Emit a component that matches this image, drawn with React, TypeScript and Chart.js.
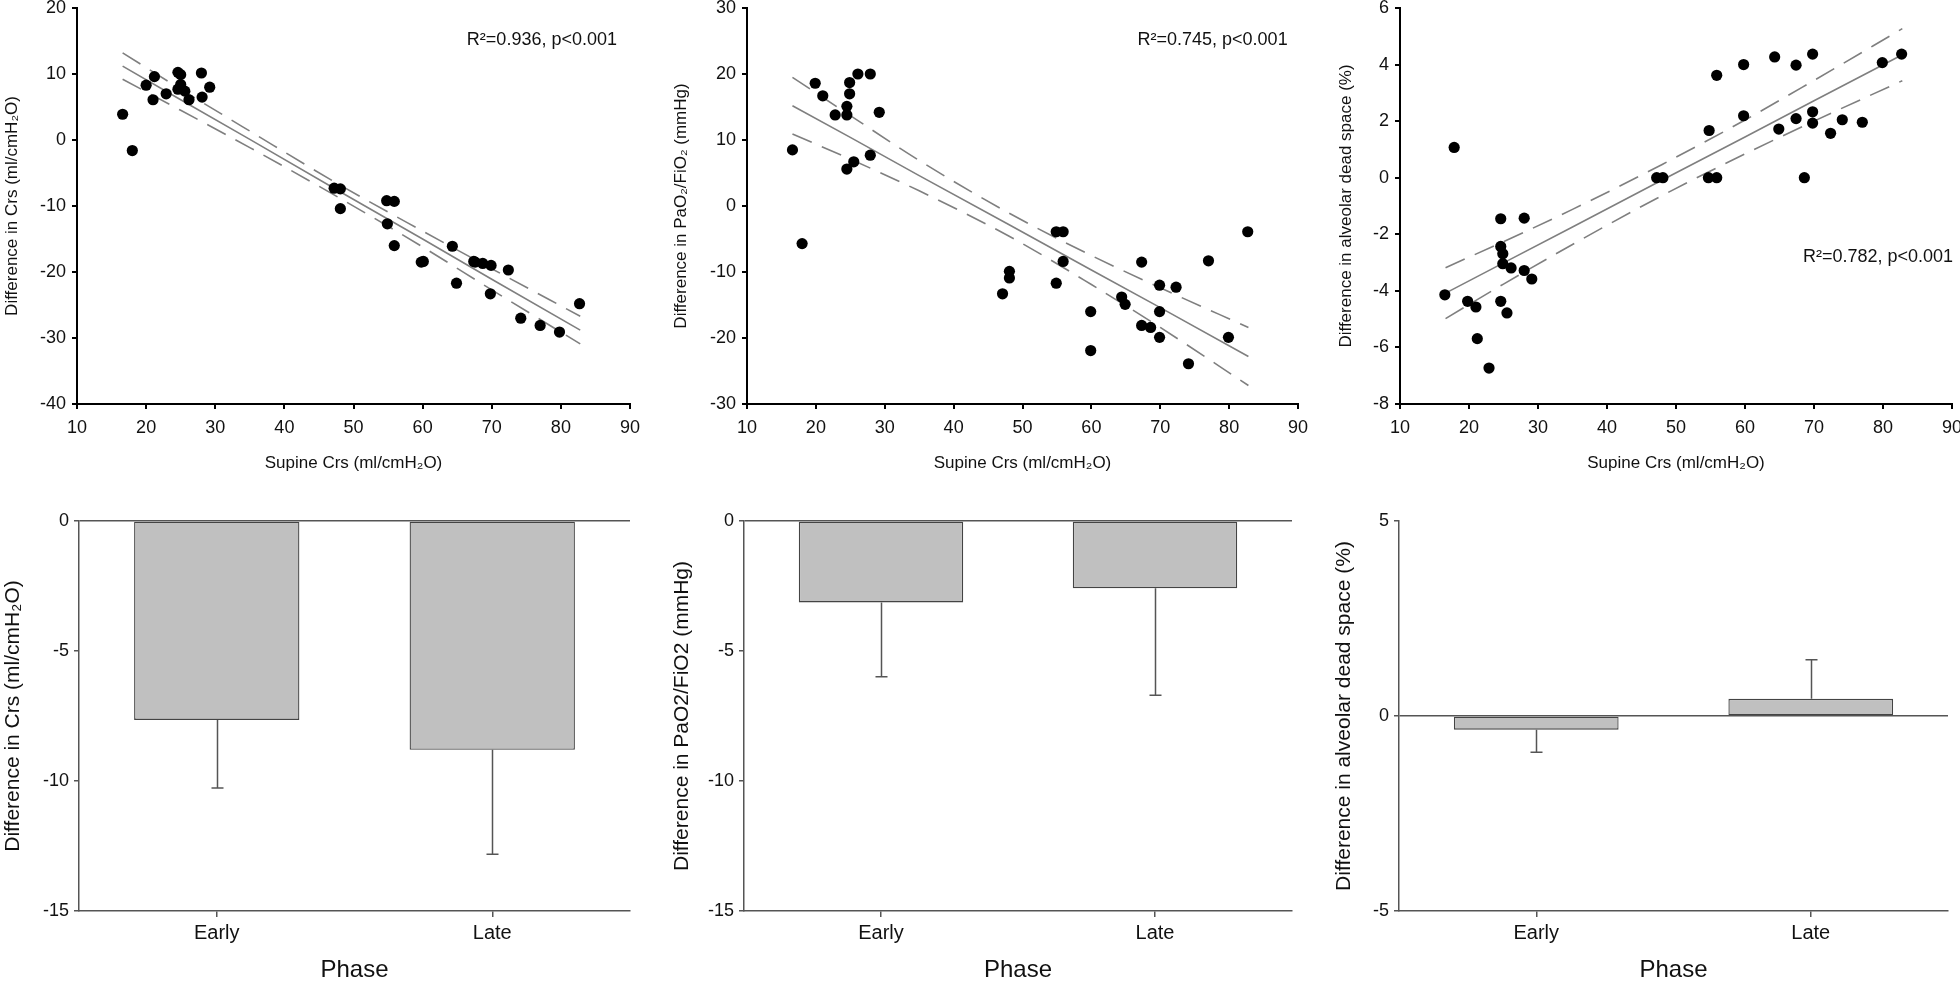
import React, { useEffect, useRef } from 'react';
import { Chart, registerables } from 'chart.js';

Chart.register(...registerables);

const FONT = "'Liberation Sans', Arial, Helvetica, sans-serif";

// ---------- Scatter data ----------
const crsX = [16.6, 18.0, 20.0, 21.2, 21.0, 22.9, 24.6, 25.0, 24.6, 25.0, 25.6, 26.2, 28.0, 28.1, 29.2, 24.9, 47.2, 48.1, 48.1, 54.8, 55.9, 54.9, 55.9, 59.8, 60.1, 64.3, 64.9, 67.4, 67.6, 68.7, 69.9, 69.8, 72.4, 74.2, 77.0, 79.8, 82.7];
const crsDiff = [3.9, -1.6, 8.3, 9.6, 6.1, 7.0, 10.25, 9.9, 7.7, 8.4, 7.4, 6.1, 10.15, 6.5, 8.0, 7.8, -7.3, -7.4, -10.4, -9.2, -9.3, -12.7, -16.0, -18.5, -18.4, -16.1, -21.7, -18.4, -18.5, -18.7, -19.0, -23.3, -19.7, -27.0, -28.1, -29.1, -24.8];

const pfX = [16.6, 18.0, 19.9, 21.0, 22.8, 24.5, 24.5, 24.9, 24.9, 24.5, 25.5, 26.1, 27.9, 29.2, 27.9, 47.1, 48.1, 48.1, 54.9, 55.9, 55.9, 54.9, 59.9, 59.9, 64.4, 64.9, 67.3, 67.3, 68.6, 69.9, 69.9, 69.9, 72.3, 74.1, 77.0, 79.9, 82.7];
const pfDiff = [8.5, -5.7, 18.6, 16.7, 13.8, 15.1, 13.8, 18.7, 17.0, 5.6, 6.7, 20.0, 20.0, 14.2, 7.7, -13.3, -9.9, -10.9, -3.9, -3.9, -8.4, -11.7, -16.0, -21.9, -13.8, -14.9, -8.5, -18.1, -18.4, -12.0, -16.0, -19.9, -12.3, -23.9, -8.3, -19.9, -3.9];

const dsX = [16.5, 17.85, 19.8, 21.0, 21.2, 22.9, 24.6, 24.6, 24.9, 24.9, 24.6, 25.5, 26.1, 28.0, 28.0, 29.1, 47.2, 48.1, 54.8, 54.7, 55.9, 55.9, 59.8, 59.8, 64.3, 64.9, 67.4, 67.4, 68.6, 69.8, 69.8, 69.8, 72.4, 74.1, 77.0, 79.9, 82.7];
const dsDiff = [-4.14, 1.07, -4.37, -4.57, -5.69, -6.73, -1.45, -2.43, -2.69, -3.04, -4.37, -4.78, -3.19, -1.43, -3.28, -3.58, 0, 0, 1.67, 0, 3.62, 0, 4.0, 2.19, 4.27, 1.72, 3.98, 2.09, 0, 4.37, 2.33, 1.93, 1.57, 2.05, 1.96, 4.07, 4.37];

// ---------- Regression lines and 95% bands ----------
const bandX = [16.6, 25, 35, 48, 60, 70, 82.8];
const crsFit = [11.2, 6.1, 0.1, -7.8, -15.0, -21.1, -28.8];
const crsUpper = [13.2, 7.7, 1.35, -6.8, -13.8, -19.5, -26.7];
const crsLower = [9.2, 4.5, -1.15, -8.8, -16.2, -22.7, -30.9];

const pfFit = [15.2, 10.4, 4.6, -2.8, -9.7, -15.4, -22.8];
const pfUpper = [19.5, 13.7, 6.9, -1.05, -7.5, -12.4, -18.4];
const pfLower = [10.9, 7.1, 2.3, -4.55, -11.9, -18.4, -27.2];

const dsFit = [-4.08, -3.01, -1.74, -0.08, 1.44, 2.72, 4.35];
const dsUpper = [-3.18, -2.26, -1.12, 0.47, 2.04, 3.44, 5.27];
const dsLower = [-4.98, -3.76, -2.36, -0.63, 0.84, 2.0, 3.43];

// ---------- Bar data ----------
const phases = ['Early', 'Late'];
const crsMean = [-7.65, -8.8];
const crsSD = [2.62, 4.02];
const pfMean = [-3.13, -2.59];
const pfSD = [2.86, 4.11];
const dsMean = [-0.35, 0.44];
const dsSD = [0.58, 1.0];

const stats = ['R²=0.936, p<0.001', 'R²=0.745, p<0.001', 'R²=0.782, p<0.001'];

const toPts = (xs: number[], ys: number[]) => xs.map((x, i) => ({ x, y: ys[i] }));

type Box = { x: number; y: number; w: number; h: number; left: number; top: number; right: number; bottom: number };

function annotationPlugin(text: string, ax: number, ay: number) {
  return {
    id: 'statText',
    afterDatasetsDraw(chart: any) {
      const { ctx, scales } = chart;
      ctx.save();
      ctx.font = `18px ${FONT}`;
      ctx.fillStyle = '#111';
      ctx.textAlign = 'left';
      ctx.textBaseline = 'middle';
      ctx.fillText(text, scales.x.getPixelForValue(ax), scales.y.getPixelForValue(ay));
      ctx.restore();
    },
  };
}

function errorBarPlugin(sd: number[]) {
  return {
    id: 'errorBars',
    afterDatasetsDraw(chart: any) {
      const { ctx } = chart;
      const meta = chart.getDatasetMeta(0);
      const vals = chart.data.datasets[0].data as number[];
      const y = chart.scales.y;
      ctx.save();
      ctx.strokeStyle = '#555';
      ctx.lineWidth = 1.5;
      meta.data.forEach((bar: any, i: number) => {
        const v = vals[i];
        const end = v + (v >= 0 ? 1 : -1) * sd[i];
        const y0 = y.getPixelForValue(v);
        const y1 = y.getPixelForValue(end);
        const xx = Math.round(bar.x) + 0.5;
        ctx.beginPath();
        ctx.moveTo(xx, y0);
        ctx.lineTo(xx, y1);
        ctx.moveTo(xx - 6, y1);
        ctx.lineTo(xx + 6, y1);
        ctx.stroke();
      });
      ctx.restore();
    },
  };
}

function scatterConfig(b: Box, xs: number[], ys: number[], fit: number[], up: number[], lo: number[],
  yMin: number, yMax: number, yStep: number, yTitle: string, yTitlePad: number, stat: string, sx: number, sy: number) {
  const lineCommon = { borderColor: '#7f7f7f', borderWidth: 1.6, pointRadius: 0, fill: false };
  return {
    type: 'scatter',
    data: {
      datasets: [
        { type: 'scatter', data: toPts(xs, ys), backgroundColor: '#000', borderColor: '#000', borderWidth: 0, pointRadius: 5.6, pointHoverRadius: 5.6 },
        { type: 'line', data: toPts(bandX, fit), ...lineCommon, tension: 0 },
        { type: 'line', data: toPts(bandX, up), ...lineCommon, borderDash: [21, 11], cubicInterpolationMode: 'monotone' },
        { type: 'line', data: toPts(bandX, lo), ...lineCommon, borderDash: [21, 11], cubicInterpolationMode: 'monotone' },
      ],
    },
    options: {
      responsive: false,
      animation: false,
      events: [],
      layout: { padding: { top: b.top, right: b.w - b.right, left: 0, bottom: 0 } },
      plugins: { legend: { display: false }, tooltip: { enabled: false } },
      scales: {
        x: {
          type: 'linear', min: 10, max: 90,
          ticks: { stepSize: 10, font: { family: FONT, size: 18 }, color: '#111', padding: 8 },
          grid: { drawOnChartArea: false, tickLength: 5, color: '#000', lineWidth: 2 },
          border: { color: '#000', width: 2 },
          title: { display: true, text: 'Supine Crs (ml/cmH₂O)', font: { family: FONT, size: 17 }, color: '#111', padding: { top: 0, bottom: 16 } },
          afterFit: (s: any) => { s.height = b.h - b.bottom; },
        },
        y: {
          type: 'linear', min: yMin, max: yMax,
          ticks: { stepSize: yStep, font: { family: FONT, size: 18 }, color: '#111', padding: 6 },
          grid: { drawOnChartArea: false, tickLength: 5, color: '#000', lineWidth: 2 },
          border: { color: '#000', width: 2 },
          title: { display: true, text: yTitle, font: { family: FONT, size: 17 }, color: '#111', padding: { top: yTitlePad, bottom: 0 } },
          afterFit: (s: any) => { s.width = b.left; },
        },
      },
    },
    plugins: [annotationPlugin(stat, sx, sy)],
  };
}

function barConfig(b: Box, means: number[], sd: number[], yMin: number, yMax: number, yTitle: string, yTitlePad: number) {
  const axisColor = '#555';
  return {
    type: 'bar',
    data: {
      labels: phases,
      datasets: [{ data: means, backgroundColor: '#c0c0c0', borderColor: '#444', borderWidth: 1.3, borderSkipped: false, categoryPercentage: 1, barPercentage: 0.6 }],
    },
    options: {
      responsive: false,
      animation: false,
      events: [],
      layout: { padding: { top: b.top, right: b.w - b.right, left: 0, bottom: 0 } },
      plugins: { legend: { display: false }, tooltip: { enabled: false } },
      scales: {
        x: {
          type: 'category', offset: true,
          ticks: { font: { family: FONT, size: 20 }, color: '#111', padding: 4 },
          grid: { offset: false, drawOnChartArea: false, tickLength: 6, color: axisColor, lineWidth: 1.5 },
          border: { color: axisColor, width: 1.5 },
          title: { display: true, text: 'Phase', font: { family: FONT, size: 24 }, color: '#111', padding: { top: 0, bottom: 4.6 } },
          afterFit: (s: any) => { s.height = b.h - b.bottom; },
        },
        y: {
          type: 'linear', min: yMin, max: yMax,
          ticks: { stepSize: 5, font: { family: FONT, size: 18 }, color: '#111', padding: 5 },
          grid: {
            drawOnChartArea: true, tickLength: 5, lineWidth: 1.5, tickColor: axisColor,
            color: (c: any) => (c.tick && c.tick.value === 0 ? axisColor : 'rgba(0,0,0,0)'),
          },
          border: { color: axisColor, width: 1.5 },
          title: { display: true, text: yTitle, font: { family: FONT, size: 21 }, color: '#111', padding: { top: yTitlePad, bottom: 0 } },
          afterFit: (s: any) => { s.width = b.left; },
        },
      },
    },
    plugins: [errorBarPlugin(sd)],
  };
}

const TOP = { y: -20, h: 510, top: 28, bottom: 424 };
const BOT = { y: 480, h: 509, top: 41, bottom: 431 };

const boxes: Box[] = [
  { x: 0, w: 660, left: 77, right: 630, ...TOP },
  { x: 670, w: 650, left: 77, right: 628, ...TOP },
  { x: 1323, w: 657, left: 77, right: 629, ...TOP },
  { x: 0, w: 660, left: 79, right: 630, ...BOT },
  { x: 665, w: 655, left: 79, right: 627, ...BOT },
  { x: 1320, w: 660, left: 79, right: 628, ...BOT },
];

const configs = [
  scatterConfig(boxes[0], crsX, crsDiff, crsFit, crsUpper, crsLower, -40, 20, 10, 'Difference in Crs (ml/cmH₂O)', 1.8, stats[0], 66.4, 15.2),
  scatterConfig(boxes[1], pfX, pfDiff, pfFit, pfUpper, pfLower, -30, 30, 10, 'Difference in PaO₂/FiO₂ (mmHg)', 0.8, stats[1], 66.7, 25.2),
  scatterConfig(boxes[2], dsX, dsDiff, dsFit, dsUpper, dsLower, -8, 6, 2, 'Difference in alveolar dead space (%)', 12.8, stats[2], 68.4, -2.8),
  barConfig(boxes[3], crsMean, crsSD, -15, 0, 'Difference in Crs (ml/cmH₂O)', 0.4),
  barConfig(boxes[4], pfMean, pfSD, -15, 0, 'Difference in PaO2/FiO2 (mmHg)', 4.4),
  barConfig(boxes[5], dsMean, dsSD, -5, 5, 'Difference in alveolar dead space (%)', 11.4),
];

function Panel({ box, config }: { box: Box; config: any }) {
  const ref = useRef<HTMLCanvasElement | null>(null);
  useEffect(() => {
    if (!ref.current) return;
    const chart = new Chart(ref.current, config);
    return () => chart.destroy();
  }, [config]);
  return (
    <canvas
      ref={ref}
      width={box.w}
      height={box.h}
      style={{ position: 'absolute', left: box.x, top: box.y, width: box.w, height: box.h }}
    />
  );
}

export default function App() {
  return (
    <div style={{ position: 'absolute', left: 0, top: 0, width: 1960, height: 989, overflow: 'hidden', background: '#fff' }}>
      {boxes.map((b, i) => (
        <Panel key={i} box={b} config={configs[i]} />
      ))}
    </div>
  );
}
